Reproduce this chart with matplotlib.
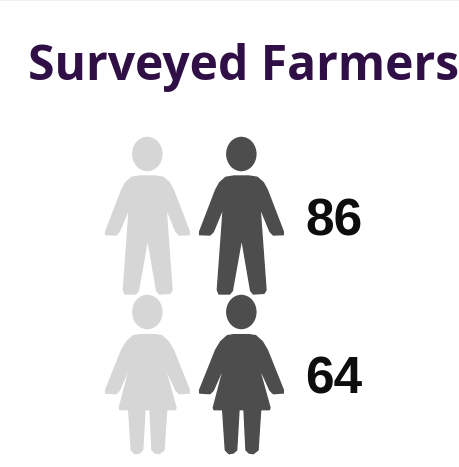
import matplotlib
matplotlib.use("Agg")
import matplotlib.pyplot as plt
from matplotlib.patches import Ellipse, Polygon

title = "Surveyed Farmers"
groups = ["Male", "Female"]
counts = [86, 64]
light_color = "#d6d6d6"
dark_color = "#4d4d4d"
title_color = "#2f0f45"

# icon outlines, in pixels relative to the icon's centre column and crop origin
male_outline = [(125,172),(150,168),(195,168),(220,172),(238,188),(250,210),(298,335),(298,344),(268,345),(258,335),(228,262),
                (246,510),(240,520),(208,522),(200,512),(173,355),(145,512),(137,522),(105,522),(100,510),
                (118,262),(88,335),(78,345),(47,344),(47,335),(95,210),(107,188)]
female_outline = [(130,152),(150,149),(195,149),(215,152),(235,170),(250,195),(298,315),(298,324),(268,326),(258,316),(222,238),
                  (258,368),(256,374),(230,374),(222,495),(208,506),(195,504),(186,495),(180,374),(165,374),
                  (158,495),(148,504),(135,506),(124,495),(116,374),(90,374),(88,368),(122,238),
                  (88,316),(78,326),(47,324),(47,315),(95,195),(110,170)]

fig = plt.figure(figsize=(4.59, 4.67), dpi=100, facecolor="white")
ax = fig.add_axes([0, 0, 1, 1])
ax.set_xlim(0, 459)
ax.set_ylim(467, 0)
ax.axis("off")

ax.plot([0, 459], [0.3, 0.3], color="#eeeeee", lw=1.2)
ax.text(28, 80, title, fontsize=34.6, fontweight="bold", family="Open Sans",
        color=title_color, ha="left", va="baseline")


def person(outline, dx, y0, head_y, color):
    pts = [(dx + x / 3, y0 + y / 3) for x, y in outline]
    ax.add_patch(Polygon(pts, closed=True, fc=color, ec=color, lw=1.0, joinstyle="round"))
    ax.add_patch(Ellipse((dx + 172 / 3, head_y), 30.5, 34.5, fc=color, ec="none"))


rows = [(male_outline, 120, 154, 235), (female_outline, 285, 312, 393)]
for (outline, y0, head_y, label_y), n in zip(rows, counts):
    person(outline, 90, y0, head_y, light_color)
    person(outline, 184, y0, head_y, dark_color)
    ax.text(305, label_y, str(n), fontsize=37, fontweight="bold", family="Liberation Sans",
            color="#0d0d0d", ha="left", va="baseline")

fig.savefig("out.png", dpi=100, facecolor="white")
